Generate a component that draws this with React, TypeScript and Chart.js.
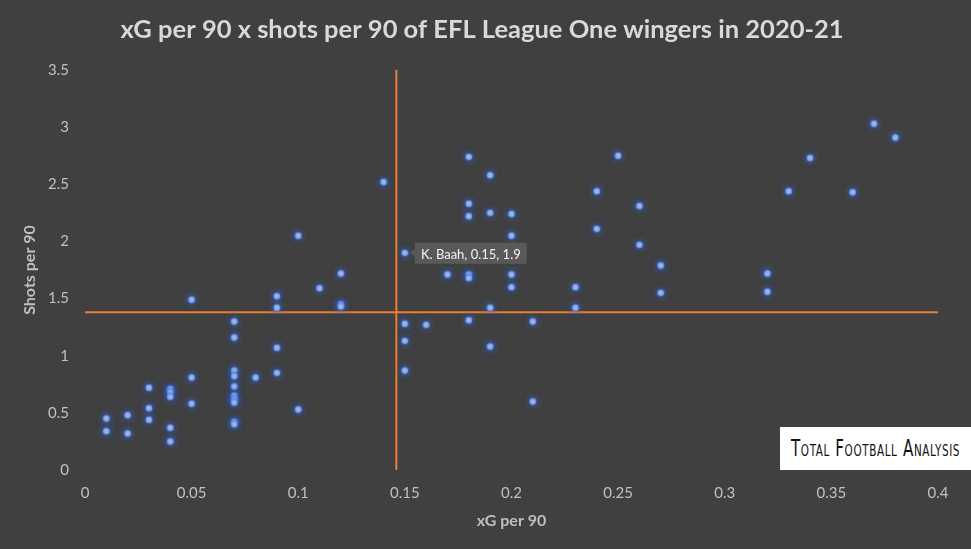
import React, { useEffect, useRef } from "react";
import { Chart, registerables } from "chart.js";

Chart.register(...registerables);

const TITLE = "xG per 90 x shots per 90 of EFL League One wingers in 2020-21";
const X_TITLE = "xG per 90";
const Y_TITLE = "Shots per 90";

const XG_PER_90 = [
  0.01, 0.01, 0.02, 0.02, 0.03, 0.03, 0.03, 0.04, 0.04, 0.04, 0.04, 0.04,
  0.05, 0.05, 0.05, 0.07, 0.07, 0.07, 0.07, 0.07, 0.07, 0.07, 0.07, 0.07, 0.07,
  0.08, 0.09, 0.09, 0.09, 0.09, 0.1, 0.1, 0.11, 0.12, 0.12, 0.12, 0.14,
  0.15, 0.15, 0.15, 0.15, 0.16, 0.17, 0.18, 0.18, 0.18, 0.18, 0.18, 0.18,
  0.19, 0.19, 0.19, 0.19, 0.2, 0.2, 0.2, 0.2, 0.21, 0.21, 0.23, 0.23,
  0.24, 0.24, 0.25, 0.26, 0.26, 0.27, 0.27, 0.32, 0.32, 0.33, 0.34, 0.36,
  0.37, 0.38,
];
const SHOTS_PER_90 = [
  0.45, 0.34, 0.48, 0.32, 0.72, 0.54, 0.44, 0.71, 0.68, 0.64, 0.37, 0.25,
  1.49, 0.81, 0.58, 1.3, 1.16, 0.87, 0.82, 0.73, 0.65, 0.62, 0.59, 0.42, 0.4,
  0.81, 1.52, 1.42, 1.07, 0.85, 2.05, 0.53, 1.59, 1.72, 1.45, 1.43, 2.52,
  1.9, 1.28, 1.13, 0.87, 1.27, 1.71, 2.74, 2.33, 2.22, 1.71, 1.68, 1.31,
  2.58, 2.25, 1.42, 1.08, 2.24, 2.05, 1.71, 1.6, 1.3, 0.6, 1.6, 1.42,
  2.44, 2.11, 2.75, 2.31, 1.97, 1.79, 1.55, 1.72, 1.56, 2.44, 2.73, 2.43,
  3.03, 2.91,
];

const LABEL_NAME = "K. Baah";
const LABEL_INDEX = 37;

const MEAN_XG = 0.146;
const MEAN_SHOTS = 1.38;

const X_MIN = 0;
const X_MAX = 0.4;
const X_STEP = 0.05;
const Y_MIN = 0;
const Y_MAX = 3.5;
const Y_STEP = 0.5;

const LOGO_TEXT = "Total Football Analysis";

const FONT = "Lato, 'Open Sans', sans-serif";

const fmt = (v: number | string) => String(Number(Number(v).toFixed(2)));

export default function App() {
  const canvasRef = useRef<HTMLCanvasElement | null>(null);

  useEffect(() => {
    document.body.style.margin = "0";
    document.body.style.background = "#404040";
    const canvas = canvasRef.current;
    if (!canvas) return;

    const points = XG_PER_90.map((x, i) => ({ x, y: SHOTS_PER_90[i] }));

    const glowPlugin = {
      id: "glow",
      beforeDatasetDraw(chart: any, args: any) {
        if (args.index === 0) {
          const ctx = chart.ctx;
          ctx.save();
          ctx.shadowColor = "rgba(50, 105, 225, 0.9)";
          ctx.shadowBlur = 7;
        }
      },
      afterDatasetDraw(chart: any, args: any) {
        if (args.index === 0) chart.ctx.restore();
      },
    };

    const labelPlugin = {
      id: "pointLabel",
      afterDatasetsDraw(chart: any) {
        const meta = chart.getDatasetMeta(0);
        const el = meta.data[LABEL_INDEX];
        if (!el) return;
        const ctx = chart.ctx;
        const text = `${LABEL_NAME}, ${XG_PER_90[LABEL_INDEX]}, ${SHOTS_PER_90[LABEL_INDEX]}`;
        ctx.save();
        ctx.font = `13px ${FONT}`;
        const tw = ctx.measureText(text).width;
        const bx = el.x + 10;
        const by = el.y - 10;
        const bw = tw + 12;
        const bh = 21;
        ctx.fillStyle = "#595959";
        ctx.beginPath();
        ctx.moveTo(bx, by);
        ctx.lineTo(bx + bw, by);
        ctx.lineTo(bx + bw, by + bh);
        ctx.lineTo(bx, by + bh);
        ctx.lineTo(bx, el.y + 4);
        ctx.lineTo(el.x + 5, el.y);
        ctx.lineTo(bx, el.y - 4);
        ctx.closePath();
        ctx.fill();
        ctx.fillStyle = "#f2f2f2";
        ctx.textBaseline = "middle";
        ctx.textAlign = "left";
        ctx.fillText(text, bx + 6, by + bh / 2 + 1);
        ctx.restore();
      },
    };

    const chart = new Chart(canvas, {
      type: "scatter",
      data: {
        datasets: [
          {
            label: "Wingers",
            data: points,
            backgroundColor: "#aac0ee",
            borderColor: "rgba(70, 120, 220, 0.5)",
            borderWidth: 2,
            pointRadius: 3.2,
            pointHoverRadius: 3.2,
            order: 0,
          },
          {
            type: "line",
            label: "Mean xG",
            data: [
              { x: MEAN_XG, y: Y_MIN },
              { x: MEAN_XG, y: Y_MAX },
            ],
            borderColor: "#ed7d31",
            borderWidth: 2,
            pointRadius: 0,
            showLine: true,
            fill: false,
            order: 1,
          } as any,
          {
            type: "line",
            label: "Mean shots",
            data: [
              { x: X_MIN, y: MEAN_SHOTS },
              { x: X_MAX, y: MEAN_SHOTS },
            ],
            borderColor: "#ed7d31",
            borderWidth: 2,
            pointRadius: 0,
            showLine: true,
            fill: false,
            order: 1,
          } as any,
        ],
      },
      options: {
        animation: false,
        responsive: false,
        maintainAspectRatio: false,
        layout: { padding: { left: 0, right: 7, top: 0, bottom: 0 } },
        plugins: {
          legend: { display: false },
          tooltip: { enabled: false },
          title: {
            display: true,
            text: TITLE,
            color: "#d9d9d9",
            font: { family: FONT, size: 25.5, weight: "bold", lineHeight: 1.2 },
            padding: { top: 14, bottom: 25.4 },
          },
        },
        scales: {
          x: {
            type: "linear",
            min: X_MIN,
            max: X_MAX,
            afterFit(scale: any) {
              scale.height = 79;
            },
            ticks: {
              stepSize: X_STEP,
              color: "#c0c0c0",
              font: { family: FONT, size: 15 },
              padding: 14,
              callback: (v: any) => fmt(v),
            },
            grid: { display: false, drawTicks: false },
            border: { display: false },
            title: {
              display: true,
              text: X_TITLE,
              color: "#bfbfbf",
              font: { family: FONT, size: 16, weight: "bold", lineHeight: 1.2 },
              padding: { top: 0, bottom: 18.4 },
            },
          },
          y: {
            type: "linear",
            min: Y_MIN,
            max: Y_MAX,
            afterFit(scale: any) {
              scale.width = 85;
            },
            ticks: {
              stepSize: Y_STEP,
              color: "#c0c0c0",
              font: { family: FONT, size: 15 },
              padding: 16,
              callback: (v: any) => fmt(v),
            },
            grid: { display: false, drawTicks: false },
            border: { display: false },
            title: {
              display: true,
              text: Y_TITLE,
              color: "#bfbfbf",
              font: { family: FONT, size: 16, weight: "bold", lineHeight: 1.2 },
              padding: { top: 20.4, bottom: 0 },
            },
          },
          yRight: {
            type: "linear",
            position: "right",
            display: true,
            min: Y_MIN,
            max: Y_MAX,
            afterFit(scale: any) {
              scale.width = 26;
            },
            ticks: { display: false },
            grid: { display: false, drawTicks: false },
            border: { display: false },
          },
        },
      },
      plugins: [glowPlugin, labelPlugin],
    });

    return () => chart.destroy();
  }, []);

  return (
    <div style={{ position: "relative", width: 971, height: 549, background: "#404040" }}>
      <canvas ref={canvasRef} width={971} height={549} style={{ display: "block" }} />
      <div
        style={{
          position: "absolute",
          left: 780,
          top: 427,
          width: 191,
          height: 43,
          background: "#ffffff",
          display: "flex",
          alignItems: "center",
          justifyContent: "center",
          overflow: "hidden",
        }}
      >
        <span
          style={{
            fontFamily: "'DejaVu Sans Condensed', 'Liberation Sans Narrow', sans-serif",
            fontVariant: "small-caps",
            fontSize: 16,
            color: "#111",
            letterSpacing: 0.6,
            display: "inline-block",
            transform: "scale(1.05, 1.45)",
            whiteSpace: "nowrap",
          }}
        >
          {LOGO_TEXT}
        </span>
      </div>
    </div>
  );
}
